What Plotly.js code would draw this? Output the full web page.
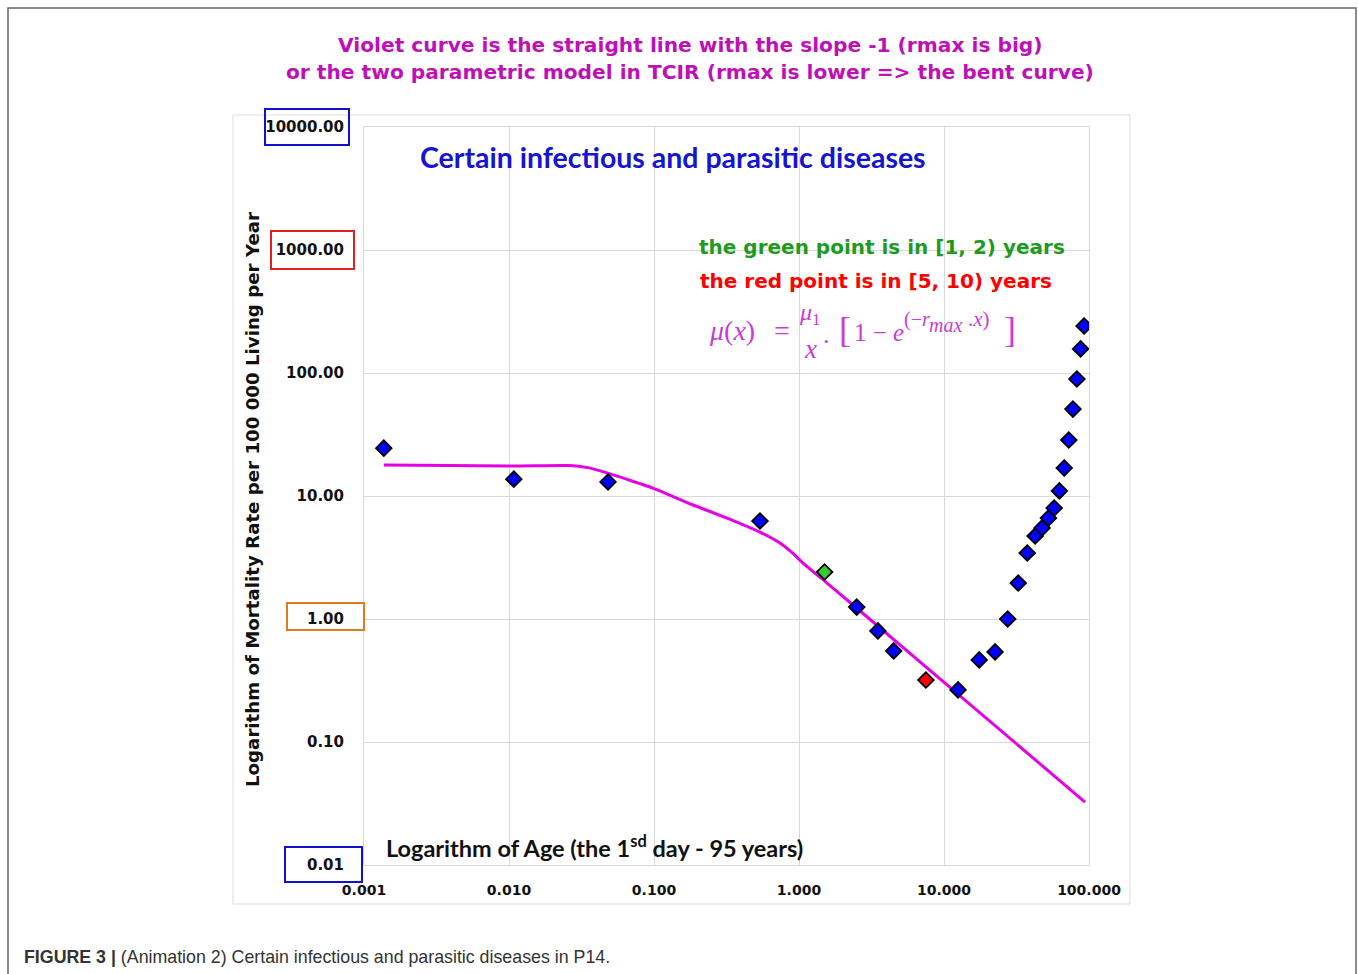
<!DOCTYPE html>
<html>
<head>
<meta charset="utf-8">
<script src="https://cdn.plot.ly/plotly-3.0.1.min.js"></script>
<style>
  html, body { margin: 0; padding: 0; background: #ffffff; }
  #chart { width: 1358px; height: 974px; }
</style>
</head>
<body>
<div id="chart"></div>
<script>
// ---- Data ----
// Observed mortality points (age in years, rate per 100 000 living per year)
const blueAge  = [0.00137, 0.0108, 0.0482, 0.538, 2.5, 3.5, 4.5, 12.5, 17.5, 22.5, 27.5, 32.5, 37.5, 42.5, 47.5, 52.5, 57.5, 62.5, 67.5, 72.5, 77.5, 82.5, 87.5, 92.5];
const blueRate = [24.5, 13.7, 13.0, 6.26, 1.25, 0.80, 0.55, 0.265, 0.465, 0.54, 1.0, 1.96, 3.44, 4.73, 5.50, 6.62, 7.98, 11.0, 16.9, 28.5, 50.9, 89.3, 157, 241];
const greenAge  = [1.5];
const greenRate = [2.41];
const redAge  = [7.5];
const redRate = [0.319];
// Violet model curve
const curveAge  = [0.00137, 0.0108, 0.0251, 0.0350, 0.0474, 0.0984, 0.186, 0.319, 0.538, 0.740, 0.900, 1.066, 1.56, 2.36, 93.8];
const curveRate = [17.9, 17.5, 17.7, 17.0, 15.4, 11.6, 8.45, 6.62, 5.09, 4.15, 3.45, 2.85, 1.96, 1.30, 0.0325];
// Tick labels
const xTickVals = [0.001, 0.01, 0.1, 1, 10, 100];
const xTickText = ["0.001", "0.010", "0.100", "1.000", "10.000", "100.000"];
const yTickVals = [0.01, 0.1, 1, 10, 100, 1000, 10000];
const yTickText = ["0.01", "0.10", "1.00", "10.00", "100.00", "1000.00", "10000.00"];

// ---- Layout helpers (pixel -> paper) ----
const W = 1358, H = 974;
const px = v => v / W;
const py = v => 1 - v / H;

const plotL = 364, plotR = 1089, plotT = 127, plotB = 865;
const gridCol = "#d9d9d9";
const magenta = "#bf10b8";
const formulaCol = "#c83cd8";
const sansB = "DejaVu Sans, Verdana, sans-serif";

const traces = [
  {
    x: curveAge, y: curveRate, type: "scatter", mode: "lines",
    line: { color: "#e600e6", width: 3, shape: "spline", smoothing: 0.4 },
    hoverinfo: "skip", showlegend: false
  },
  {
    x: blueAge, y: blueRate, type: "scatter", mode: "markers",
    marker: { symbol: "diamond", size: 12, color: "#0000ff", line: { color: "#000000", width: 1.8 } },
    showlegend: false
  },
  {
    x: greenAge, y: greenRate, type: "scatter", mode: "markers",
    marker: { symbol: "diamond", size: 12, color: "#33cc33", line: { color: "#000000", width: 1.8 } },
    showlegend: false
  },
  {
    x: redAge, y: redRate, type: "scatter", mode: "markers",
    marker: { symbol: "diamond", size: 12, color: "#ff0000", line: { color: "#000000", width: 1.8 } },
    showlegend: false
  }
];

function box(x0, y0, x1, y1, color, w) {
  return { type: "rect", xref: "paper", yref: "paper", x0: px(x0), x1: px(x1), y0: py(y1), y1: py(y0),
           line: { color: color, width: w || 2 }, fillcolor: "rgba(0,0,0,0)", layer: "above" };
}

const ann = (text, x, y, opts) => Object.assign({
  text: text, xref: "paper", yref: "paper", x: px(x), y: py(y),
  showarrow: false, xanchor: "center", yanchor: "middle"
}, opts || {});

const serif = "Liberation Serif, DejaVu Serif, serif";

const layout = {
  width: W, height: H,
  margin: { l: 0, r: 0, t: 0, b: 0 },
  paper_bgcolor: "#ffffff", plot_bgcolor: "#ffffff",
  showlegend: false,
  xaxis: {
    type: "log", range: [-3, 2],
    domain: [px(plotL), px(plotR)],
    tickvals: xTickVals, ticktext: xTickText,
    tickfont: { family: sansB, size: 14, color: "#111111", weight: "bold" },
    ticks: "", ticklabelstandoff: 12,
    showgrid: true, gridcolor: gridCol, gridwidth: 1,
    showline: true, linecolor: gridCol, linewidth: 1, mirror: true,
    zeroline: false
  },
  yaxis: {
    type: "log", range: [-2, 4],
    domain: [py(plotB), py(plotT)],
    tickvals: yTickVals, ticktext: yTickText,
    tickfont: { family: sansB, size: 15, color: "#111111", weight: "bold" },
    ticks: "", ticklabelstandoff: 16,
    showgrid: true, gridcolor: gridCol, gridwidth: 1,
    showline: true, linecolor: gridCol, linewidth: 1, mirror: true,
    zeroline: false
  },
  shapes: [
    // outer figure frame
    { type: "rect", xref: "paper", yref: "paper", x0: px(8), x1: px(1356), y0: py(1000), y1: py(8),
      line: { color: "#666666", width: 1.5 }, fillcolor: "rgba(0,0,0,0)", layer: "below" },
    // chart area frame
    { type: "rect", xref: "paper", yref: "paper", x0: px(233), x1: px(1130), y0: py(904), y1: py(115),
      line: { color: "#dddddd", width: 1 }, fillcolor: "rgba(0,0,0,0)", layer: "below" },
    // highlighted tick label boxes
    box(265, 109, 349, 145, "#1010d0"),
    box(271, 231, 354, 269, "#e02020"),
    box(287, 603, 364, 630, "#e07b20"),
    box(285, 847, 362, 882, "#1010d0")
  ],
  annotations: [
    ann("Violet curve is the straight line with the slope -1 (rmax is big)", 690, 45,
        { font: { family: sansB, size: 20.2, color: magenta, weight: "bold" } }),
    ann("or the two parametric model in TCIR (rmax is lower => the bent curve)", 690, 72,
        { font: { family: sansB, size: 20.2, color: magenta, weight: "bold" } }),
    ann("Certain infectious and parasitic diseases", 673, 157,
        { font: { family: "Lato, Open Sans, sans-serif", size: 28.5, color: "#1414d2", weight: "bold" } }),
    ann("the green point is in [1, 2) years", 697, 247,
        { xanchor: "left", font: { family: sansB, size: 20, color: "#1e9a1e", weight: "bold" } }),
    ann("the red point is in [5, 10) years", 698, 281,
        { xanchor: "left", font: { family: sansB, size: 20, color: "#ff0000", weight: "bold" } }),
    // formula pieces
    ann("<i>μ</i>(<i>x</i>)", 707, 331, { xanchor: "left", font: { family: serif, size: 28, color: formulaCol } }),
    ann("=", 782, 331, { font: { family: serif, size: 28, color: formulaCol } }),
    ann("<i>μ</i><sub>1</sub>", 809, 314, { font: { family: serif, size: 24, color: formulaCol } }),
    ann("<i>x</i>", 810, 349, { font: { family: serif, size: 27, color: formulaCol } }),
    ann(".", 827, 334, { font: { family: serif, size: 26, color: formulaCol } }),
    ann("[", 845, 330, { font: { family: serif, size: 36, color: formulaCol } }),
    ann("1 − <i>e</i>", 852, 333, { xanchor: "left", font: { family: serif, size: 25, color: formulaCol } }),
    ann("(−<i>r</i>", 902, 319, { xanchor: "left", font: { family: serif, size: 20, color: formulaCol } }),
    ann("<i>max</i>", 927, 325, { xanchor: "left", font: { family: serif, size: 20, color: formulaCol } }),
    ann(".<i>x</i>)", 966, 319, { xanchor: "left", font: { family: serif, size: 21, color: formulaCol } }),
    ann("]", 1010, 330, { font: { family: serif, size: 36, color: formulaCol } }),
    // axis titles
    ann("Logarithm of Age (the 1<sup>sd</sup> day - 95 years)", 384, 846,
        { xanchor: "left", font: { family: "Lato, Open Sans, sans-serif", size: 23.5, color: "#111111", weight: "bold" } }),
    ann("Logarithm of Mortality Rate per 100 000 Living per Year", 253, 500,
        { textangle: -90, font: { family: sansB, size: 18.2, color: "#111111", weight: "bold" } }),
    // caption
    ann("<b>FIGURE 3 |</b> (Animation 2) Certain infectious and parasitic diseases in P14.", 22, 957,
        { xanchor: "left", font: { family: "Liberation Sans, Arial, sans-serif", size: 17.8, color: "#333333" } })
  ]
};

Plotly.newPlot("chart", traces, layout, { displayModeBar: false, staticPlot: true });
</script>
</body>
</html>
